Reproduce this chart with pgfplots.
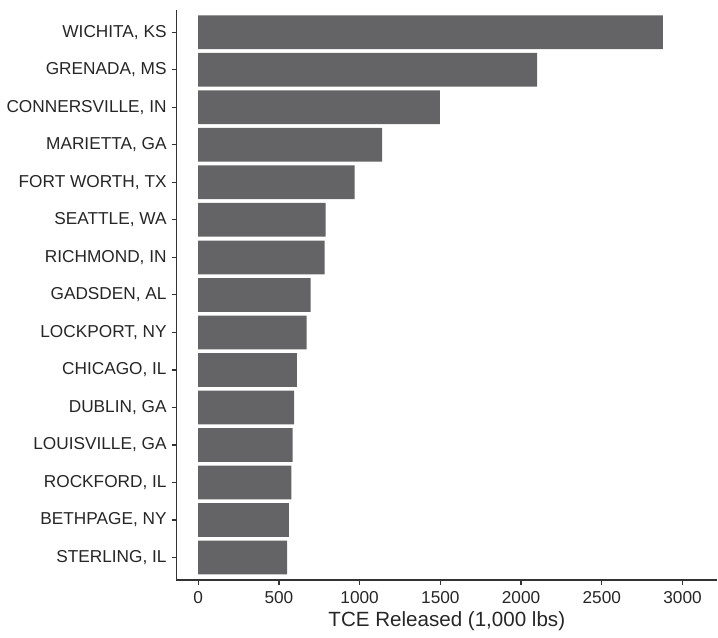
\documentclass[border=0pt]{standalone}
\usepackage{fontspec}
\setmainfont{Liberation Sans}
\usepackage{pgfplots}
\pgfplotsset{compat=1.18}
\usepackage{pgfplotstable}
\definecolor{barfill}{HTML}{646466}
\definecolor{axisgray}{HTML}{333333}

% y = position from bottom, v = TCE released (1,000 lbs)
\pgfplotstableread{
y v
14 2878
13 2099
12 1497
11 1139
10 969
9 789
8 783
7 697
6 671
5 611
4 594
3 585
2 577
1 562
0 551
}\tcedata

\begin{document}
\begin{tikzpicture}
\begin{axis}[
  scale only axis,
  width=276pt, height=291pt,
  xbar, bar width=0.9,
  xmin=-135, xmax=3215,
  ymin=-0.6, ymax=14.6,
  axis lines*=left,
  axis line style={axisgray, line width=0.8pt},
  tick style={axisgray, line width=0.6pt},
  tick align=outside,
  major tick length=2.5pt,
  xtick={0,500,1000,1500,2000,2500,3000},
  ytick={0,...,14},
  yticklabels={{STERLING, IL}, {BETHPAGE, NY}, {ROCKFORD, IL}, {LOUISVILLE, GA},
    {DUBLIN, GA}, {CHICAGO, IL}, {LOCKPORT, NY}, {GADSDEN, AL}, {RICHMOND, IN},
    {SEATTLE, WA}, {FORT WORTH, TX}, {MARIETTA, GA}, {CONNERSVILLE, IN},
    {GRENADA, MS}, {WICHITA, KS}},
  ticklabel style={font=\fontsize{8.8}{10}\selectfont, text=black!85},
  yticklabel style={xshift=1pt},
  /pgf/number format/assume math mode=true,
  /pgf/number format/set thousands separator={},
  xlabel={TCE Released (1,000 lbs)},
  xlabel style={font=\fontsize{10.5}{12}\selectfont, text=black!85, yshift=3pt},
]
\addplot[fill=barfill, draw=none] table[x=v, y=y] {\tcedata};
\end{axis}
\path ([yshift=5pt]current axis.north);
\path ([xshift=-3pt]current axis.west);
\end{tikzpicture}
\end{document}
